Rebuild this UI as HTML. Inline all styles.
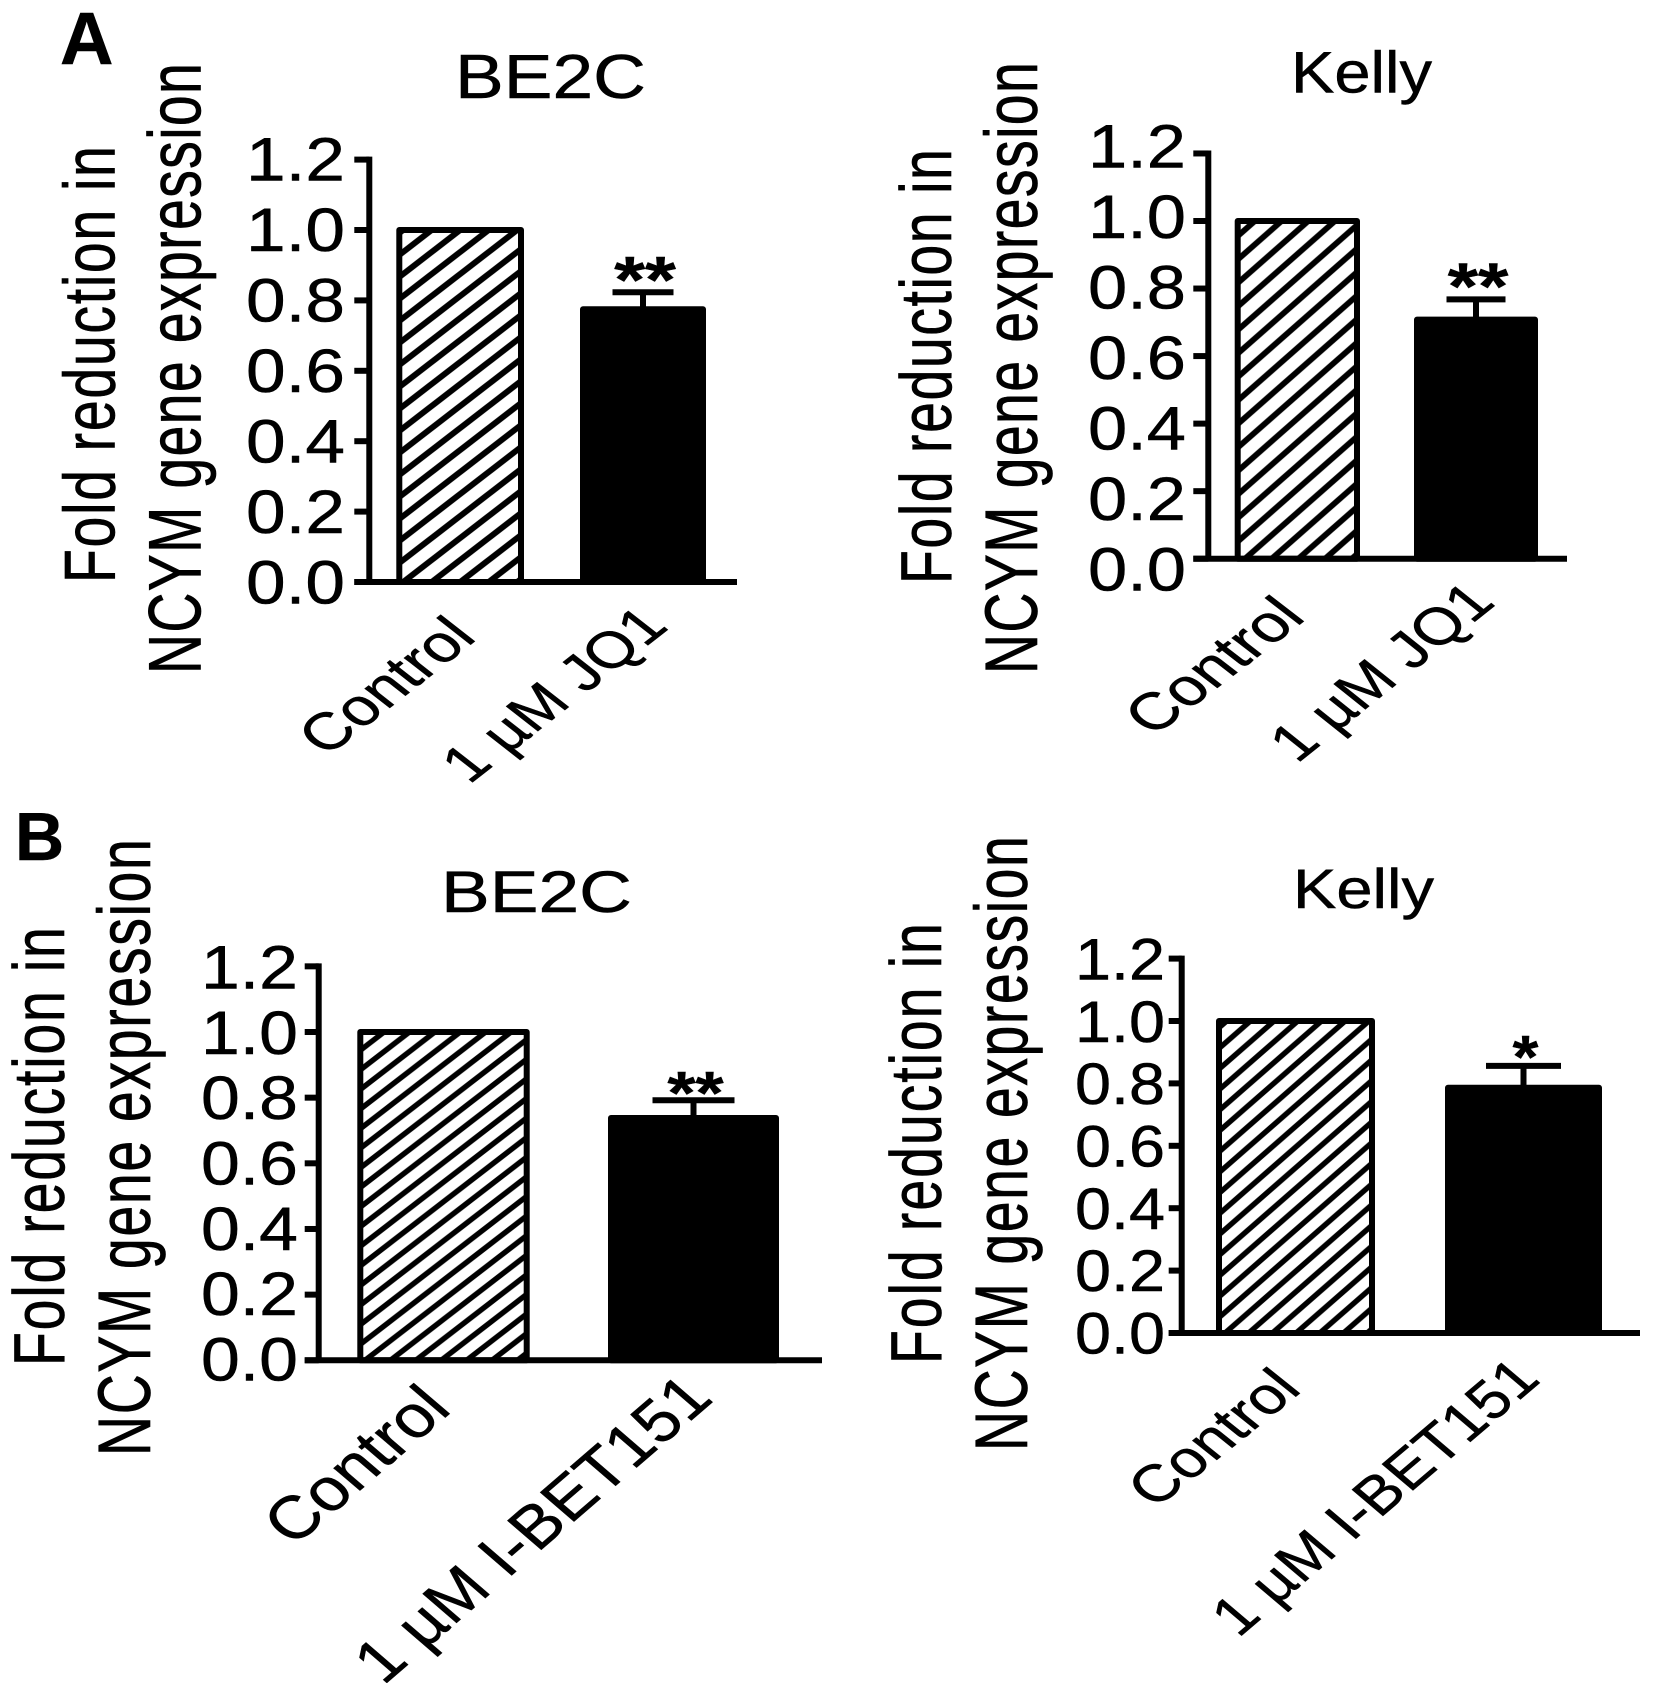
<!DOCTYPE html>
<html>
<head>
<meta charset="utf-8">
<title>NCYM gene expression bar charts</title>
<style>
html,body{margin:0;padding:0;background:#fff;}
svg{display:block;}
text{font-family:"Liberation Sans",sans-serif;fill:#000;stroke:#000;stroke-width:0.5px;}
</style>
</head>
<body>
<svg id="figure" width="1654" height="1683" viewBox="0 0 1654 1683" xmlns="http://www.w3.org/2000/svg">
<rect width="1654" height="1683" fill="#fff"/>
<text x="60" y="64" font-size="74" font-weight="bold">A</text>
<text x="15" y="860" font-size="68" font-weight="bold">B</text>
<defs id="defs"></defs>
</svg>
<script>
const tickValues = [0, 0.2, 0.4, 0.6, 0.8, 1.0, 1.2];
const tickLabels = ['0.0', '0.2', '0.4', '0.6', '0.8', '1.0', '1.2'];
const panelTitles = ['BE2C', 'Kelly', 'BE2C', 'Kelly'];
const categoriesJQ1 = ['Control', '1 \u00B5M JQ1'];
const categoriesBET = ['Control', '1 \u00B5M I-BET151'];
const controlValues = [1.0, 1.0, 1.0, 1.0];
const treatedValues = [0.775, 0.708, 0.738, 0.786];
const treatedErrors = [0.048, 0.06, 0.054, 0.07];
const significance = ['**', '**', '**', '*'];
const yTitleLines = ['Fold reduction in', 'NCYM gene expression'];

const layouts = [
  {id:'a-be2c', cats:categoriesJQ1, ax:369.3, y0:582, y1:230, tick:15, xEnd:737, lw:6,
   bar1:[399.3,521], bar2:[583,703], capW:61, starOff:28, star:{f:66,k:1.2},
   hatch:{h:28.5,v:22,x:431.7,w:6},
   title:{x:455,w:191,b:98,f:62},
   yl:[{b:114.5,s:583,len:437,cap:50},{b:200.5,s:674,len:611,cap:51}],
   lab:{x:246,w:99,cap:44,y0:582,y12:159},
   xl:[{x:478,y:639,f:52,k:1.28},{x:670,y:628,f:51,k:1.28}]},
  {id:'a-kelly', cats:categoriesJQ1, ax:1208.3, y0:558.7, y1:221, tick:15, xEnd:1567, lw:6,
   bar1:[1237.7,1357], bar2:[1417,1535], capW:59, starOff:28.5, star:{f:66,k:1.18},
   hatch:{h:26.7,v:23.5,x:1245,w:5.8},
   title:{x:1291,w:141,b:92.5,f:58},
   yl:[{b:951,s:584,len:435,cap:50},{b:1037,s:674,len:612,cap:51}],
   lab:{x:1088,w:98,cap:44,y0:569,y12:146},
   xl:[{x:1307,y:619,f:52,k:1.3},{x:1497,y:604,f:52,k:1.25}]},
  {id:'b-be2c', cats:categoriesBET, ax:318.7, y0:1360.3, y1:1032, tick:14, xEnd:822, lw:6,
   bar1:[360.3,526.7], bar2:[611,776], capW:82, starOff:21.5, star:{f:60,k:1.2},
   hatch:{h:25.4,v:19.6,x:365,w:5.4},
   title:{x:441,w:191,b:912,f:58},
   yl:[{b:64,s:1366,len:439,cap:50},{b:150,s:1456,len:617,cap:51}],
   lab:{x:201,w:97,cap:44,y0:1359,y12:967},
   xl:[{x:453,y:1411,f:60,k:1.17},{x:715,y:1400,f:60,k:1.16}]},
  {id:'b-kelly', cats:categoriesBET, ax:1181.7, y0:1333, y1:1021, tick:13, xEnd:1640, lw:6,
   bar1:[1219,1372], bar2:[1448,1599], capW:75, starOff:23, star:{f:60,k:1.1},
   hatch:{h:23.7,v:20.7,x:1225,w:5.4},
   title:{x:1293,w:141,b:908,f:56},
   yl:[{b:941,s:1364,len:441,cap:50},{b:1027,s:1451,len:615,cap:51}],
   lab:{x:1075,w:90,cap:42,y0:1333,y12:959},
   xl:[{x:1303,y:1391,f:52,k:1.25},{x:1542,y:1381,f:54,k:1.18}]}
];

const NS = 'http://www.w3.org/2000/svg';
const svg = document.getElementById('figure');
const defs = document.getElementById('defs');

function make(parent, tag, attrs) {
  const el = document.createElementNS(NS, tag);
  for (const key in attrs) el.setAttribute(key, attrs[key]);
  parent.appendChild(el);
  return el;
}

function naturalWidth(el) {
  return el.getComputedTextLength() || 1;
}

function drawPanel(L, i) {
  const yScale = function (v) { return L.y0 - (L.y0 - L.y1) * v; };
  const labelScale = function (v) { return L.lab.y0 - (L.lab.y0 - L.lab.y12) * v / 1.2; };

  const g = make(svg, 'g', {});
  
  

  const pid = 'hatch-' + L.id;
  const H = L.hatch.h, V = L.hatch.v;
  const pat = make(defs, 'pattern', {id: pid, patternUnits: 'userSpaceOnUse', width: H, height: V,
    patternTransform: 'translate(' + L.hatch.x + ',' + L.y0 + ')'});
  make(pat, 'path', {d: 'M' + (-H/2) + ',' + (V/2) + 'L' + (H/2) + ',' + (-V/2) +
    'M0,' + V + 'L' + H + ',0M' + (H/2) + ',' + (1.5*V) + 'L' + (1.5*H) + ',' + (V/2),
    stroke: '#000', 'stroke-width': L.hatch.w, fill: 'none'});

  const yCtl = yScale(controlValues[i]);
  const bar1 = make(g, 'rect', {x: L.bar1[0], y: yCtl, width: L.bar1[1] - L.bar1[0], height: L.y0 - yCtl,
    fill: 'url(#' + pid + ')', stroke: '#000', 'stroke-width': L.lw, 'stroke-linejoin': 'round'});
  
  

  const yTrt = yScale(treatedValues[i]);
  const bar2 = make(g, 'rect', {x: L.bar2[0], y: yTrt, width: L.bar2[1] - L.bar2[0], height: L.y0 - yTrt,
    fill: '#000', stroke: '#000', 'stroke-width': L.lw, 'stroke-linejoin': 'round'});
  
  

  const cx = (L.bar2[0] + L.bar2[1]) / 2;
  const yErr = yScale(treatedValues[i] + treatedErrors[i]);
  const stem = make(g, 'line', {x1: cx, x2: cx, y1: yTrt, y2: yErr, stroke: '#000', 'stroke-width': L.lw});
  
  
  const cap = make(g, 'line', {x1: cx - L.capW/2, x2: cx + L.capW/2, y1: yErr, y2: yErr, stroke: '#000', 'stroke-width': L.lw});
  
  

  const starCy = yErr - L.starOff;
  const star = make(g, 'text', {'text-anchor': 'middle', 'font-size': L.star.f, 'font-weight': 'bold',
    transform: 'translate(' + (cx + 2) + ',' + (starCy + 0.58 * L.star.f) + ') scale(' + L.star.k + ',1)'});
  star.textContent = significance[i];
  
  

  const yAxis = make(g, 'line', {x1: L.ax, x2: L.ax, y1: yScale(1.2) - L.lw/2, y2: L.y0, stroke: '#000', 'stroke-width': L.lw});
  
  
  const xAxis = make(g, 'line', {x1: L.ax - L.tick, x2: L.xEnd, y1: L.y0, y2: L.y0, stroke: '#000', 'stroke-width': L.lw});
  
  

  tickValues.forEach(function (v, t) {
    const tk = make(g, 'line', {x1: L.ax - L.tick, x2: L.ax, y1: yScale(v), y2: yScale(v), stroke: '#000', 'stroke-width': L.lw});
    
    

    const F = L.lab.cap / 0.72;
    const tx = make(g, 'text', {'font-size': F});
    tx.textContent = tickLabels[t];
    
    
    const k = L.lab.w / naturalWidth(tx);
    tx.setAttribute('transform', 'translate(' + L.lab.x + ',' + (labelScale(v) + L.lab.cap/2 - 0.5) + ') scale(' + k + ',1)');
  });

  const title = make(g, 'text', {'font-size': L.title.f});
  title.textContent = panelTitles[i];
  
  
  const tk = L.title.w / naturalWidth(title);
  title.setAttribute('transform', 'translate(' + L.title.x + ',' + L.title.b + ') scale(' + tk + ',1)');

  L.yl.forEach(function (s, n) {
    const F = 55.5;
    const t = make(g, 'text', {'font-size': F});
    t.textContent = yTitleLines[n];
    
    
    const spacing = (s.len - naturalWidth(t)) / (yTitleLines[n].length - 1);
    t.setAttribute('letter-spacing', spacing);
    const k = s.cap / (0.688 * F);
    t.setAttribute('transform', 'translate(' + s.b + ',' + s.s + ') scale(' + k + ',1) rotate(-90)');
  });

  L.xl.forEach(function (s, n) {
    const t = make(g, 'text', {'font-size': s.f, 'text-anchor': 'end',
      transform: 'translate(' + s.x + ',' + s.y + ') scale(' + s.k + ',1) rotate(-45)'});
    t.textContent = L.cats[n];
    
    
  });
}

layouts.forEach(drawPanel);
</script>
</body>
</html>
